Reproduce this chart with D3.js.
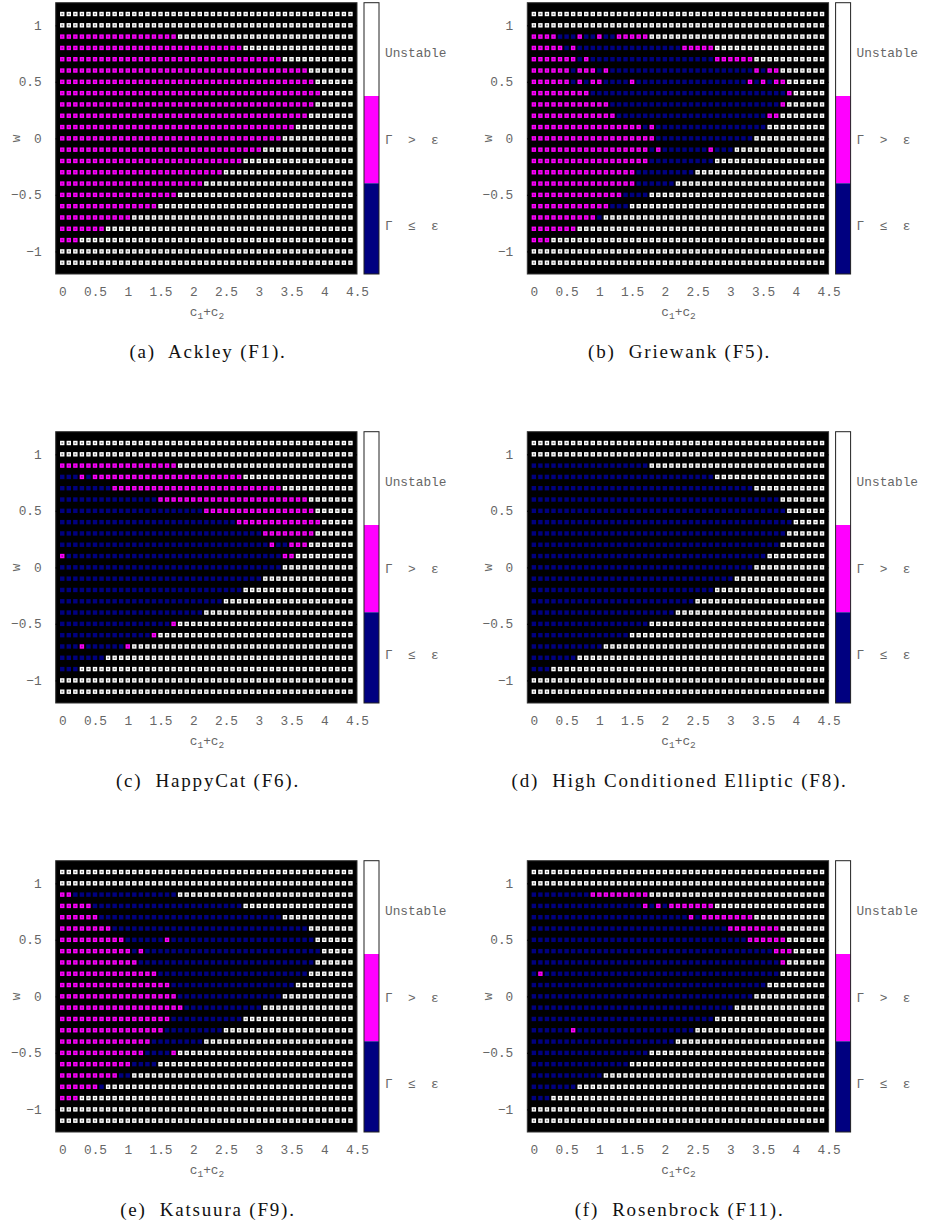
<!DOCTYPE html>
<html>
<head>
<meta charset="utf-8">
<script src="https://cdn.jsdelivr.net/npm/d3@7"></script>
<style>
  body { margin: 0; background: #fff; }
  svg { display: block; }
  .mono { font-family: "Liberation Mono", "DejaVu Sans Mono", monospace; font-size: 12.8px; fill: #666; white-space: pre; }
  .cap { font-family: "Liberation Serif", "DejaVu Serif", serif; font-size: 19px; letter-spacing: 1.8px; fill: #111; white-space: pre; }
</style>
</head>
<body>
<div id="chart"></div>
<script>
// grid values (c1+c2 columns, w rows top to bottom)
const cValues = [0, 0.1, 0.2, 0.3, 0.4, 0.5, 0.6, 0.7, 0.8, 0.9, 1, 1.1, 1.2, 1.3, 1.4, 1.5, 1.6, 1.7, 1.8, 1.9,
  2, 2.1, 2.2, 2.3, 2.4, 2.5, 2.6, 2.7, 2.8, 2.9, 3, 3.1, 3.2, 3.3, 3.4, 3.5, 3.6, 3.7, 3.8, 3.9,
  4, 4.1, 4.2, 4.3, 4.4];
const wValues = [1.1, 1, 0.9, 0.8, 0.7, 0.6, 0.5, 0.4, 0.3, 0.2, 0.1, 0, -0.1, -0.2, -0.3, -0.4, -0.5,
  -0.6, -0.7, -0.8, -0.9, -1, -1.1];
const xTicks = [0, 0.5, 1, 1.5, 2, 2.5, 3, 3.5, 4, 4.5];
const yTicks = [1, 0.5, 0, -0.5, -1];

// W = unstable, M = gamma > eps, N = gamma <= eps ; each row is run-length coded
const states = ["W", "M", "N"];
const stateLabels = ["Unstable", "Γ  >  ε", "Γ  ≤  ε"];
const stateColors = ["#ffffff", "#ff00ff", "#000080"];
const innerColors = ["#8e8e8e", "#b300b3", "#000080"];

const ackleyRows = ["W45", "W45", "M18 W27", "M28 W17", "M34 W11", "M38 W7", "M39 W6", "M40 W5", "M39 W6",
  "M38 W7", "M36 W9", "M34 W11", "M31 W14", "M28 W17", "M25 W20", "M22 W23", "M18 W27", "M15 W30",
  "M11 W34", "M7 W38", "M3 W42", "W45", "W45"];
const griewankRows = ["W45", "W45", "M4 N3 M1 N2 M1 N2 M5 W27", "M5 N1 M1 N16 M5 W17", "M7 N1 M1 N19 M6 W11",
  "M6 N1 M3 N1 M1 N22 M1 N1 M2 W7", "M6 N1 M1 N1 M2 N4 M1 N17 M1 N1 M1 N1 M2 W6", "M9 N30 M1 W5",
  "M12 N26 M1 W6", "M13 N23 M2 W7", "M17 N1 M1 N17 W9", "M19 N15 W11", "M18 N1 M1 N7 M1 N3 W14",
  "M18 N10 W17", "M16 N9 W20", "M16 N6 W23", "M14 N4 W27", "M12 N3 W30", "M10 N1 W34", "M7 W38",
  "M3 W42", "W45", "W45"];
const happyCatRows = ["W45", "W45", "M18 W27", "N3 M1 N1 M23 W17", "N8 M26 W11", "N15 M23 W7", "N22 M17 W6",
  "N27 M13 W5", "N31 M8 W6", "N32 M1 N2 M3 W7", "M1 N33 M2 W9", "N34 W11", "N31 W14", "N28 W17",
  "N25 W20", "N22 W23", "N17 M1 W27", "N14 M1 W30", "N3 M1 N6 M1 W34", "N7 W38", "N3 W42", "W45", "W45"];
const ellipticRows = ["W45", "W45", "N18 W27", "N28 W17", "N34 W11", "N38 W7", "N39 W6", "N40 W5", "N39 W6",
  "N38 W7", "N36 W9", "N34 W11", "N31 W14", "N28 W17", "N25 W20", "N22 W23", "N18 W27", "N15 W30",
  "N11 W34", "N7 W38", "N3 W42", "W45", "W45"];
const katsuuraRows = ["W45", "W45", "M2 N16 W27", "M5 N23 W17", "M6 N28 W11", "M8 N30 W7", "M10 N6 M1 N22 W6",
  "M11 N1 M1 N27 W5", "M12 N27 W6", "M15 N23 W7", "M17 N19 W9", "M18 N16 W11", "M19 N12 W14",
  "M17 N11 W17", "M16 N9 W20", "M14 N8 W23", "M13 N4 M1 W27", "M11 N4 W30", "M9 N2 W34", "M6 N1 W38",
  "M3 W42", "W45", "W45"];
const rosenbrockRows = ["W45", "W45", "N9 M9 W27", "N17 M1 N1 M1 N1 M7 W17", "N24 M1 N1 M8 W11", "N30 M8 W7",
  "N33 M6 W6", "N37 M3 W5", "N38 M1 W6", "N1 M1 N36 W7", "N36 W9", "N34 W11", "N31 W14", "N28 W17",
  "N6 M1 N18 W20", "N22 W23", "N18 W27", "N15 W30", "N11 W34", "N7 W38", "N3 W42", "W45", "W45"];

const captions = ["(a)  Ackley (F1).", "(b)  Griewank (F5).", "(c)  HappyCat (F6).",
  "(d)  High Conditioned Elliptic (F8).", "(e)  Katsuura (F9).", "(f)  Rosenbrock (F11)."];
const panelRows = [ackleyRows, griewankRows, happyCatRows, ellipticRows, katsuuraRows, rosenbrockRows];

const panels = panelRows.map((rows, i) => ({ rows, caption: captions[i], col: i % 2, row: Math.floor(i / 2) }));

const svg = d3.select("#chart").append("svg")
  .attr("width", 925)
  .attr("height", 1230);

const x = d3.scaleLinear().domain([-0.1, 4.5]).range([55.7, 357]);
const y = d3.scaleLinear().domain([-1.2, 1.2]).range([274, 2.7]);
// colorbar bands (unstable on top)
const cbTop = [2.7, 96, 183.3], cbBottom = [96, 183.3, 274];
const cbLabelY = [53, 140, 226];
const sq = 4.4, inner = 1.8;

function decode(code) {
  const out = [];
  code.split(" ").forEach(run => {
    const s = states.indexOf(run[0]);
    for (let k = 0; k < +run.slice(1); k++) out.push(s);
  });
  return out;
}

panels.forEach(p => {
  const g = svg.append("g")
    .attr("transform", `translate(${p.col * 471.6},${p.row * 429})`);

  g.append("rect")
    .attr("x", x(-0.1)).attr("y", y(1.2))
    .attr("width", x(4.5) - x(-0.1)).attr("height", y(-1.2) - y(1.2))
    .attr("fill", "#000").attr("stroke", "#333").attr("stroke-width", 1);

  const cells = [];
  p.rows.forEach((code, i) => {
    decode(code).forEach((s, j) => cells.push({ c: cValues[j], w: wValues[i], s }));
  });

  g.selectAll("rect.cell").data(cells).join("rect")
    .attr("class", "cell")
    .attr("x", d => x(d.c) - sq / 2).attr("y", d => y(d.w) - sq / 2)
    .attr("width", sq).attr("height", sq)
    .attr("fill", d => stateColors[d.s]);

  g.selectAll("rect.dot").data(cells.filter(d => d.s !== 2)).join("rect")
    .attr("class", "dot")
    .attr("x", d => x(d.c) - inner / 2).attr("y", d => y(d.w) - inner / 2)
    .attr("width", inner).attr("height", inner)
    .attr("fill", d => innerColors[d.s]);

  // tick marks inside the frame, both sides
  const left = g.append("g").attr("transform", `translate(${x(-0.1)},0)`)
    .call(d3.axisLeft(y).tickValues(yTicks).tickSize(-4).tickPadding(14).tickFormat(d3.format("")));
  const right = g.append("g").attr("transform", `translate(${x(4.5)},0)`)
    .call(d3.axisRight(y).tickValues(yTicks).tickSize(-4).tickFormat(""));
  [left, right].forEach(a => {
    a.select(".domain").remove();
    a.selectAll(".tick line").attr("stroke", "#000").attr("stroke-width", 1.3);
  });
  left.selectAll(".tick text").attr("class", "mono").attr("font-family", null).attr("font-size", null);

  const bottom = g.append("g").attr("transform", `translate(0,${y(-1.2)})`)
    .call(d3.axisBottom(x).tickValues(xTicks).tickSize(0).tickPadding(13).tickFormat(d3.format("")));
  bottom.select(".domain").remove();
  bottom.selectAll(".tick text").attr("class", "mono").attr("font-family", null).attr("font-size", null);

  // axis titles
  const xl = g.append("text").attr("class", "mono")
    .attr("x", 207).attr("y", 316).attr("text-anchor", "middle");
  xl.append("tspan").text("c");
  xl.append("tspan").text("1").attr("font-size", 9.5).attr("dy", 3);
  xl.append("tspan").text("+c").attr("dy", -3);
  xl.append("tspan").text("2").attr("font-size", 9.5).attr("dy", 3);

  g.append("text").attr("class", "mono")
    .attr("transform", `translate(20,${y(0)}) rotate(-90)`)
    .attr("text-anchor", "middle").text("w");

  // colorbar
  states.forEach((s, k) => {
    g.append("rect")
      .attr("x", 364).attr("y", cbTop[k])
      .attr("width", 15).attr("height", cbBottom[k] - cbTop[k])
      .attr("fill", stateColors[k]);
    g.append("text").attr("class", "mono")
      .attr("x", 385).attr("y", cbLabelY[k]).attr("dy", "0.35em")
      .text(stateLabels[k]);
  });
  g.append("rect")
    .attr("x", 364).attr("y", 2.7).attr("width", 15).attr("height", 274 - 2.7)
    .attr("fill", "none").attr("stroke", "#222").attr("stroke-width", 1);

  g.append("text").attr("class", "cap")
    .attr("x", 208).attr("y", 358).attr("text-anchor", "middle")
    .text(p.caption);
});
</script>
</body>
</html>
